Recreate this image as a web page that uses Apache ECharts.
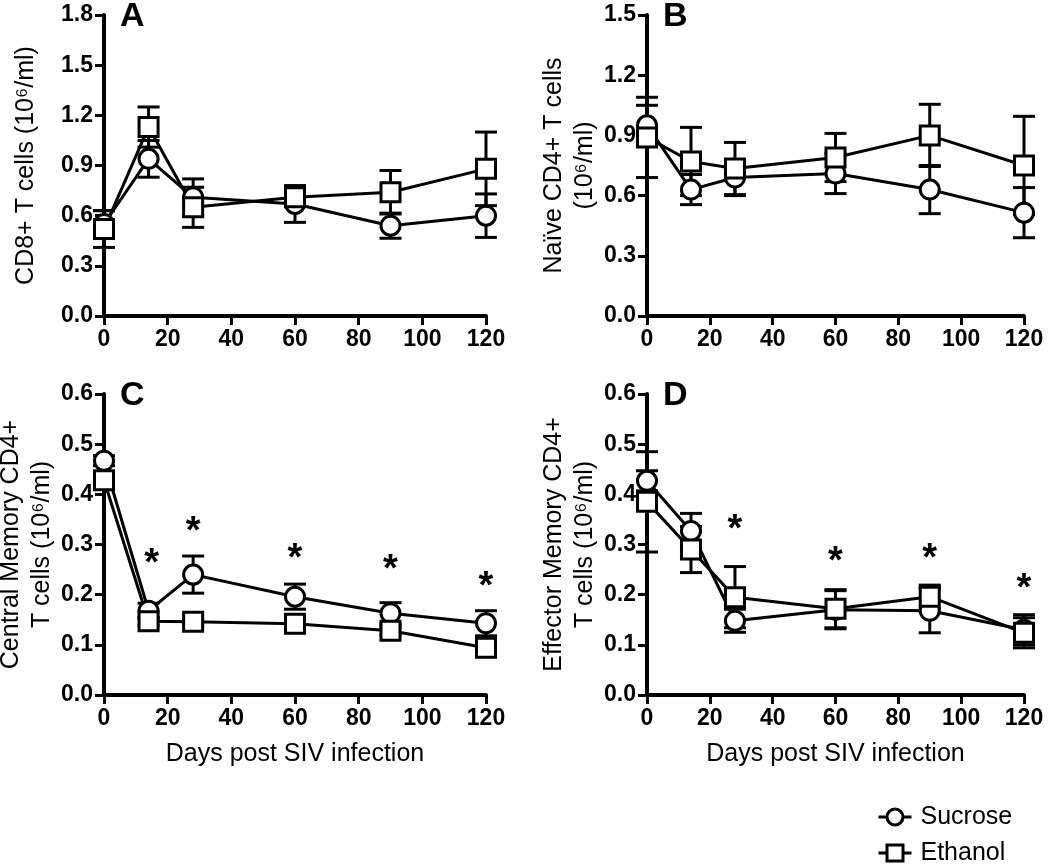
<!DOCTYPE html>
<html>
<head>
<meta charset="utf-8">
<script src="https://cdn.jsdelivr.net/npm/echarts@6/dist/echarts.min.js"></script>
<style>
html,body{margin:0;padding:0;background:#fff;}
#chart{width:1050px;height:865px;}
</style>
</head>
<body>
<div id="chart"></div>
<script>
// ---- Data ----
const days = [0, 14, 28, 60, 90, 120];
const xTicks = [0, 20, 40, 60, 80, 100, 120];

// Panel A: CD8+ T cells
const sucA    = [0.55, 0.94, 0.71, 0.67, 0.54, 0.60];
const sucAErr = [0.08, 0.11, 0.11, 0.11, 0.075, 0.13];
const ethA    = [0.52, 1.13, 0.65, 0.71, 0.74, 0.88];
const ethAErr = [0.11, 0.12, 0.12, 0.04, 0.13, 0.22];

// Panel B: Naive CD4+ T cells
const sucB    = [0.95, 0.63, 0.69, 0.71, 0.63, 0.515];
const sucBErr = [0.10, 0.075, 0.09, 0.10, 0.12, 0.125];
const ethB    = [0.89, 0.77, 0.735, 0.79, 0.90, 0.75];
const ethBErr = [0.20, 0.17, 0.13, 0.12, 0.155, 0.245];

// Panel C: Central Memory CD4+ T cells
const sucC    = [0.467, 0.168, 0.240, 0.196, 0.163, 0.143];
const sucCErr = [0.01, 0.015, 0.037, 0.025, 0.021, 0.025];
const ethC    = [0.428, 0.147, 0.146, 0.142, 0.128, 0.094];
const ethCErr = [0.01, 0.008, 0.005, 0.008, 0.008, 0.008];
const starCDays = [15, 28, 60, 90, 120];
const starCY    = [0.279, 0.342, 0.289, 0.266, 0.233];

// Panel D: Effector Memory CD4+ T cells
const sucD    = [0.427, 0.327, 0.148, 0.170, 0.168, 0.130];
const sucDErr = [0.02, 0.035, 0.023, 0.038, 0.044, 0.03];
const ethD    = [0.385, 0.29, 0.195, 0.172, 0.196, 0.124];
const ethDErr = [0.10, 0.046, 0.061, 0.038, 0.023, 0.03];
const starDDays = [28, 60, 90, 120];
const starDY    = [0.346, 0.283, 0.289, 0.229];

const panelLetters = ['A', 'B', 'C', 'D'];
const yTitles = [
  'CD8+ T cells (10\u2076/ml)',
  'Na\u00efve CD4+ T cells\n(10\u2076/ml)',
  'Central Memory CD4+\nT cells (10\u2076/ml)',
  'Effector Memory CD4+\nT cells (10\u2076/ml)'
];
const yMax = [1.8, 1.5, 0.6, 0.6];
const yStep = [0.3, 0.3, 0.1, 0.1];
const xTitle = 'Days post SIV infection';
const seriesNames = ['Sucrose', 'Ethanol'];

// ---- Layout ----
const FONT = '"Liberation Sans", Arial, sans-serif';
const grids = [
  {left: 104, top: 15,  width: 382, height: 301},
  {left: 647, top: 15,  width: 377, height: 301},
  {left: 104, top: 394, width: 382, height: 301},
  {left: 647, top: 394, width: 377, height: 301}
].map(g => Object.assign(g, {containLabel: false, outerBoundsMode: 'none'}));
const yGaps = [62, 46, 44, 44];

const panels = [
  {suc: sucA, sucErr: sucAErr, eth: ethA, ethErr: ethAErr, starX: [], starY: []},
  {suc: sucB, sucErr: sucBErr, eth: ethB, ethErr: ethBErr, starX: [], starY: []},
  {suc: sucC, sucErr: sucCErr, eth: ethC, ethErr: ethCErr, starX: starCDays, starY: starCY},
  {suc: sucD, sucErr: sucDErr, eth: ethD, ethErr: ethDErr, starX: starDDays, starY: starDY}
];

const axisLine = {lineStyle: {color: '#000', width: 4}};
const axisTick = {length: 9, lineStyle: {color: '#000', width: 3}};

const xAxes = grids.map((g, i) => ({
  type: 'value', gridIndex: i, min: 0, max: 120, interval: 20,
  axisLine: Object.assign({onZero: false}, axisLine), axisTick: axisTick,
  splitLine: {show: false},
  axisLabel: {color: '#000', fontFamily: FONT, fontWeight: 'bold', fontSize: 23, margin: 12,
    formatter: v => xTicks.indexOf(v) >= 0 ? String(v) : ''},
  name: i >= 2 ? xTitle : '', nameLocation: 'middle', nameGap: 47,
  nameTextStyle: {color: '#000', fontFamily: FONT, fontSize: 25}
}));

const yAxes = grids.map((g, i) => ({
  type: 'value', gridIndex: i, min: 0, max: yMax[i], interval: yStep[i],
  axisLine: Object.assign({show: true, onZero: false}, axisLine), axisTick: axisTick,
  splitLine: {show: false},
  axisLabel: {color: '#000', fontFamily: FONT, fontWeight: 'bold', fontSize: 23, margin: 11,
    formatter: v => v.toFixed(1)},
  name: yTitles[i], nameLocation: 'middle', nameRotate: 90, nameGap: yGaps[i],
  nameTextStyle: {color: '#000', fontFamily: FONT, fontSize: 25, lineHeight: 31, align: 'center'}
}));

function renderErr(params, api) {
  const x = api.value(0), y = api.value(1), e = api.value(2);
  const t = api.coord([x, y + e]);
  const b = api.coord([x, y - e]);
  const hw = 11;
  const st = {stroke: '#000', lineWidth: 3};
  return {type: 'group', children: [
    {type: 'line', shape: {x1: t[0], y1: t[1], x2: b[0], y2: b[1]}, style: st},
    {type: 'line', shape: {x1: t[0] - hw, y1: t[1], x2: t[0] + hw, y2: t[1]}, style: st},
    {type: 'line', shape: {x1: b[0] - hw, y1: b[1], x2: b[0] + hw, y2: b[1]}, style: st}
  ]};
}

function renderStar(params, api) {
  const p = api.coord([api.value(0), api.value(1)]);
  return {type: 'text', x: p[0], y: p[1] + 9,
    style: {text: '*', fill: '#000', font: 'bold 38px ' + FONT, align: 'center', verticalAlign: 'middle'}};
}

const series = [];
panels.forEach((p, i) => {
  [[p.suc, p.sucErr, 0], [p.eth, p.ethErr, 1]].forEach(([vals, errs, k]) => {
    series.push({
      type: 'custom', name: 'err' + i + k, xAxisIndex: i, yAxisIndex: i, z: 1,
      renderItem: renderErr, silent: true,
      data: days.map((d, j) => [d, vals[j], errs[j]]),
      encode: {x: 0, y: 1}
    });
  });
  [[p.suc, 'circle', 0], [p.eth, 'rect', 1]].forEach(([vals, sym, k]) => {
    series.push({
      type: 'line', name: seriesNames[k], xAxisIndex: i, yAxisIndex: i, z: 3,
      symbol: sym, symbolSize: 19, showAllSymbol: true,
      data: days.map((d, j) => [d, vals[j]]),
      lineStyle: {color: '#000', width: 3},
      itemStyle: {color: '#fff', borderColor: '#000', borderWidth: 3},
      emphasis: {disabled: true}, silent: true
    });
  });
  if (p.starX.length) {
    series.push({
      type: 'custom', name: 'star' + i, xAxisIndex: i, yAxisIndex: i, z: 4,
      renderItem: renderStar, silent: true,
      data: p.starX.map((d, j) => [d, p.starY[j]]),
      encode: {x: 0, y: 1}
    });
  }
});

const titles = grids.map((g, i) => ({
  text: panelLetters[i], left: g.left + 16, top: g.top - 15, padding: 0,
  textStyle: {color: '#000', fontFamily: FONT, fontWeight: 'bold', fontSize: 34}
}));

const legendTops = [804, 840];
const legends = seriesNames.map((n, k) => ({
  data: [n], orient: 'vertical', left: 877, top: legendTops[k], padding: 0,
  itemWidth: 33, itemHeight: 20,
  lineStyle: {color: '#000', width: 3},
  itemStyle: {color: '#fff', borderColor: '#000', borderWidth: 3},
  textStyle: {color: '#000', fontFamily: FONT, fontSize: 25, lineHeight: 26, padding: [0, 0, 0, 4]},
  selectedMode: false
}));

const chart = echarts.init(document.getElementById('chart'), null, {renderer: 'canvas'});
chart.setOption({
  backgroundColor: '#fff',
  animation: false,
  title: titles,
  grid: grids,
  xAxis: xAxes,
  yAxis: yAxes,
  legend: legends,
  series: series
});
</script>
</body>
</html>
